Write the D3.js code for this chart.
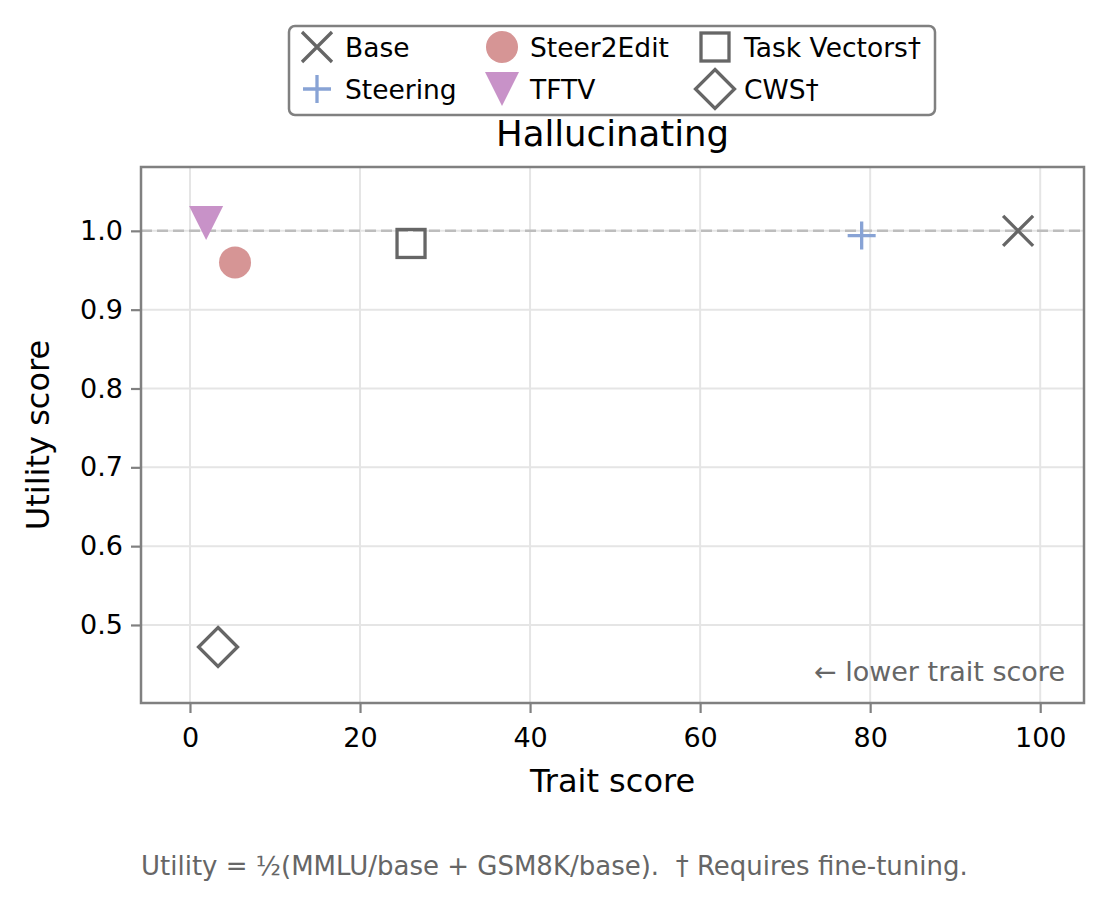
<!DOCTYPE html>
<html>
<head>
<meta charset="utf-8">
<script src="https://cdn.jsdelivr.net/npm/d3@7"></script>
<style>
  body { margin: 0; background: #fff; }
  text { font-family: "DejaVu Sans", sans-serif; }
</style>
</head>
<body>
<div id="chart"></div>
<script>
// methods, trait score (x) and utility score (y)
const methods = ["Base", "Steering", "Steer2Edit", "TFTV", "Task Vectors†", "CWS†"];
const traitScores = [97.4, 79.0, 5.3, 1.9, 26.0, 3.3];
const utilityScores = [1.000, 0.994, 0.960, 1.010, 0.984, 0.472];
const symbols = ["x", "plus", "circle", "tri", "square", "diamond"];
const colors = ["#666666", "#88a3d5", "#d69595", "#c892c8", "#666666", "#666666"];
const xTicks = [0, 20, 40, 60, 80, 100];
const yTicks = [0.5, 0.6, 0.7, 0.8, 0.9, 1.0];

const W = 1109, H = 907;
const margin = {top: 167, right: 25, bottom: 204, left: 141};
const width = W - margin.left - margin.right,
      height = H - margin.top - margin.bottom;

const svg = d3.select("#chart").append("svg")
  .attr("width", W)
  .attr("height", H);

svg.append("rect").attr("width", W).attr("height", H).attr("fill", "#fff");

const g = svg.append("g")
  .attr("transform", `translate(${margin.left},${margin.top})`);

const x = d3.scaleLinear().domain([-5.76, 105.15]).range([0, width]);
const y = d3.scaleLinear().domain([0.401, 1.081]).range([height, 0]);

// grid
g.append("g").selectAll("line").data(xTicks).enter().append("line")
  .attr("x1", d => x(d)).attr("x2", d => x(d))
  .attr("y1", 0).attr("y2", height)
  .attr("stroke", "#e5e5e5").attr("stroke-width", 2);
g.append("g").selectAll("line").data(yTicks).enter().append("line")
  .attr("x1", 0).attr("x2", width)
  .attr("y1", d => y(d)).attr("y2", d => y(d))
  .attr("stroke", "#e5e5e5").attr("stroke-width", 2);

// reference line at utility 1.0
g.append("line")
  .attr("x1", 0).attr("x2", width)
  .attr("y1", y(1)).attr("y2", y(1))
  .attr("stroke", "#bdbdbd").attr("stroke-width", 2.5)
  .attr("stroke-dasharray", "11,5");

// axes
const xAxis = d3.axisBottom(x).tickValues(xTicks).tickSize(10).tickPadding(8)
  .tickFormat(d3.format("d"));
const yAxis = d3.axisLeft(y).tickValues(yTicks).tickSize(10).tickPadding(8)
  .tickFormat(d3.format(".1f"));

const gx = g.append("g").attr("transform", `translate(0,${height})`).call(xAxis);
const gy = g.append("g").call(yAxis);
[gx, gy].forEach(a => {
  a.select(".domain").remove();
  a.selectAll(".tick line").attr("stroke", "#808080").attr("stroke-width", 2.2);
  a.selectAll(".tick text").attr("fill", "#000").style("font-size", "27px")
    .style("font-family", "DejaVu Sans");
});
gx.selectAll(".tick text").attr("dy", "0.95em");

// frame
g.append("rect")
  .attr("width", width).attr("height", height)
  .attr("fill", "none").attr("stroke", "#808080").attr("stroke-width", 2.5);

// marker drawing
function drawMarker(sel, sym, color) {
  if (sym === "x") {
    const s = 15;
    sel.append("path").attr("d", `M${-s},${-s}L${s},${s}M${-s},${s}L${s},${-s}`)
      .attr("stroke", color).attr("stroke-width", 3.3).attr("fill", "none");
  } else if (sym === "plus") {
    const s = 14;
    sel.append("path").attr("d", `M${-s},0L${s},0M0,${-s}L0,${s}`)
      .attr("stroke", color).attr("stroke-width", 3.3).attr("fill", "none");
  } else if (sym === "circle") {
    sel.append("circle").attr("r", 16).attr("fill", color);
  } else if (sym === "tri") {
    sel.append("path").attr("d", "M-17,-17L17,-17L0,17Z").attr("fill", color);
  } else if (sym === "square") {
    sel.append("rect").attr("x", -14).attr("y", -14).attr("width", 28).attr("height", 28)
      .attr("fill", "none").attr("stroke", color).attr("stroke-width", 3.3);
  } else if (sym === "diamond") {
    sel.append("path").attr("d", "M0,-19.5L19.5,0L0,19.5L-19.5,0Z")
      .attr("fill", "none").attr("stroke", color).attr("stroke-width", 3.3);
  }
}

const pts = methods.map((m, i) => ({m, x: traitScores[i], y: utilityScores[i], sym: symbols[i], c: colors[i]}));
g.selectAll(".pt").data(pts).enter().append("g")
  .attr("class", "pt")
  .attr("transform", d => `translate(${x(d.x)},${y(d.y)})`)
  .each(function(d) { drawMarker(d3.select(this), d.sym, d.c); });

// annotation
g.append("text")
  .attr("x", width - 19).attr("y", height - 22)
  .attr("text-anchor", "end")
  .attr("fill", "#666").style("font-size", "27px")
  .text("← lower trait score");

// axis labels
svg.append("text")
  .attr("x", margin.left + width / 2).attr("y", 792)
  .attr("text-anchor", "middle").style("font-size", "32px")
  .text("Trait score");
svg.append("text")
  .attr("transform", `translate(49,${margin.top + height / 2}) rotate(-90)`)
  .attr("text-anchor", "middle").style("font-size", "32px")
  .text("Utility score");

// title
svg.append("text")
  .attr("x", margin.left + width / 2).attr("y", 146)
  .attr("text-anchor", "middle").style("font-size", "35.5px")
  .text("Hallucinating");

// legend
const legend = svg.append("g");
legend.append("rect")
  .attr("x", 289).attr("y", 26).attr("width", 646).attr("height", 89)
  .attr("rx", 6).attr("fill", "#fff").attr("stroke", "#808080").attr("stroke-width", 2.5);
const colX = [317, 502, 715];
const textX = [345, 530, 744];
const rowY = [47, 89];
// order in legend: column-major, two rows
const legendOrder = [0, 1, 2, 3, 4, 5];
legendOrder.forEach((idx, k) => {
  const col = Math.floor(k / 2), row = k % 2;
  const item = legend.append("g").attr("transform", `translate(${colX[col]},${rowY[row]})`);
  drawMarker(item, symbols[idx], colors[idx]);
  legend.append("text")
    .attr("x", textX[col]).attr("y", rowY[row] + 9.5)
    .style("font-size", "26.5px")
    .text(methods[idx]);
});

// footnote
svg.append("text")
  .attr("x", 141).attr("y", 875)
  .attr("fill", "#666").style("font-size", "26px")
  .attr("xml:space", "preserve")
  .text("Utility = ½(MMLU/base + GSM8K/base).  † Requires fine-tuning.");
</script>
</body>
</html>
